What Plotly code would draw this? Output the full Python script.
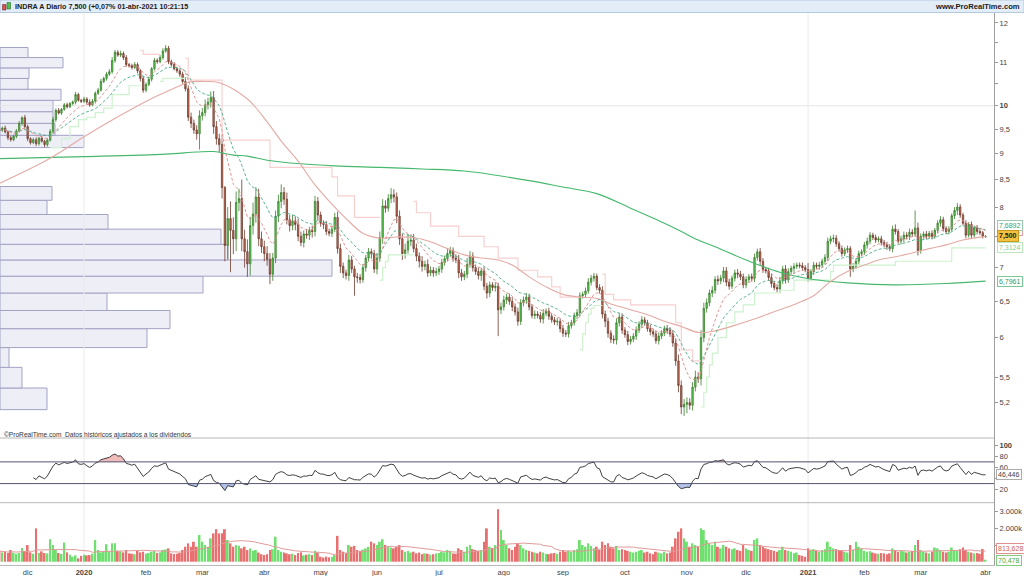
import numpy as np
import pandas as pd
import plotly.graph_objects as go

# ---------------- data ----------------
holidays = ['2019-12-25', '2019-12-26', '2020-01-01', '2020-04-10', '2020-04-13',
            '2020-05-01', '2020-12-25', '2021-01-01']
month_names = ['ene', 'feb', 'mar', 'abr', 'may', 'jun', 'jul', 'ago', 'sep', 'oct', 'nov', 'dic']

first_open = 9.50
close = [
    # nov 2019
    9.48, 9.52, 9.44, 9.32, 9.28, 9.35, 9.46, 9.62, 9.74, 9.55,
    # dic 2019
    9.30, 9.22, 9.28, 9.20, 9.31, 9.25, 9.18, 9.27, 9.45, 9.70,
    9.90, 9.84, 9.92, 10.02, 9.98, 10.05, 10.08, 10.25, 10.12, 10.10,
    # ene 2020
    10.15, 10.08, 10.02, 10.10, 10.28, 10.35, 10.55, 10.62, 10.72, 10.78,
    11.05, 11.25, 11.18, 11.22, 11.12, 10.95, 10.92, 10.88, 10.95, 10.80,
    10.62, 10.35,
    # feb 2020
    10.48, 10.60, 10.85, 11.05, 11.02, 11.12, 11.28, 11.35, 11.02, 10.95,
    10.85, 10.80, 10.72, 10.55, 10.38, 9.75, 9.62, 9.48, 9.40, 9.78,
    # mar 2020
    9.85, 10.02, 10.08, 10.18, 9.55, 9.30, 9.18, 8.35, 7.35, 7.80,
    7.60, 7.46, 8.08, 8.15, 7.46, 7.25, 7.06, 7.68, 7.88, 8.18,
    7.46, 7.33,
    # abr 2020
    7.22, 7.13, 6.90, 7.15, 7.84, 8.10, 8.26, 8.14, 7.78, 7.68,
    7.76, 7.70, 7.50, 7.40, 7.54, 7.52, 7.60, 7.58, 8.10, 7.86,
    # may 2020
    7.72, 7.70, 7.58, 7.55, 7.62, 7.82, 7.30, 7.02, 6.92, 6.88,
    7.12, 6.98, 6.86, 6.85, 6.82, 7.00, 7.15, 7.25, 7.22, 6.98,
    # jun 2020
    7.15, 7.48, 8.02, 7.98, 8.15, 8.22, 8.18, 7.84, 7.46, 7.22,
    7.28, 7.42, 7.44, 7.30, 7.18, 7.10, 7.02, 7.05, 6.92, 6.96,
    6.92, 6.94,
    # jul 2020
    6.98, 7.08, 7.14, 7.22, 7.27, 7.15, 7.12, 6.92, 6.86, 6.90,
    7.05, 7.18, 7.00, 6.94, 6.88, 6.95, 6.72, 6.62, 6.74, 6.70,
    6.72, 6.38, 6.42,
    # ago 2020
    6.52, 6.56, 6.50, 6.42, 6.35, 6.22, 6.48, 6.52, 6.56, 6.42,
    6.30, 6.32, 6.30, 6.25, 6.33, 6.36, 6.29, 6.24, 6.21, 6.22,
    6.12,
    # sep 2020
    6.06, 6.05, 6.16, 6.20, 6.30, 6.34, 6.58, 6.60, 6.65, 6.78,
    6.84, 6.87, 6.70, 6.66, 6.32, 6.22, 6.06, 5.98, 5.97, 6.20,
    6.28, 6.10,
    # oct 2020
    6.04, 5.95, 5.98, 6.02, 6.10, 6.18, 6.24, 6.20, 6.12, 6.08,
    6.05, 5.96, 6.02, 6.06, 6.12, 6.10, 6.05, 5.93, 5.70, 5.40,
    5.15, 5.18,
    # nov 2020
    5.20, 5.17, 5.38, 5.50, 5.48, 6.00, 6.40, 6.48, 6.62, 6.66,
    6.82, 6.80, 6.84, 6.95, 6.78, 6.72, 6.84, 6.92, 6.90, 6.86,
    6.74,
    # dic 2020
    6.82, 6.86, 6.84, 7.16, 7.25, 7.10, 6.97, 6.95, 6.85, 6.76,
    6.70, 6.68, 6.80, 6.98, 6.82, 6.94, 6.99, 7.02, 7.04, 7.03,
    7.00, 6.97,
    # ene 2021
    6.84, 6.94, 7.04, 7.02, 7.04, 7.10, 7.16, 7.42, 7.46, 7.47,
    7.38, 7.30, 7.22, 7.28, 7.30, 6.98, 7.02, 7.10, 7.22, 7.25,
    # feb 2021
    7.36, 7.42, 7.52, 7.48, 7.44, 7.46, 7.40, 7.36, 7.33, 7.30,
    7.62, 7.58, 7.42, 7.46, 7.52, 7.50, 7.57, 7.54, 7.64, 7.27,
    # mar 2021 + 1 abr
    7.50, 7.54, 7.50, 7.55, 7.50, 7.60, 7.72, 7.78, 7.63, 7.58,
    7.62, 7.85, 7.94, 8.00, 7.86, 7.72, 7.52, 7.70, 7.52, 7.64,
    7.58, 7.56, 7.495, 7.50,
]

hi_wick_cents = [
    4, 3, 5, 3, 4, 3, 4, 5, 3, 6,
    4, 3, 4, 5, 3, 4, 3, 4, 5, 6, 4, 5, 3, 4, 5, 3, 4, 6, 4, 3,
    5, 4, 6, 5, 4, 5, 6, 4, 5, 6, 8, 6, 5, 7, 5, 6, 4, 5, 6, 5, 4, 6,
    5, 6, 4, 6, 5, 6, 7, 8, 6, 5, 6, 5, 4, 6, 10, 8, 10, 8, 10, 12,
    10, 12, 10, 14, 15, 12, 10, 20, 3, 20, 30, 22, 20, 18, 35, 15, 20, 15, 20, 18, 15, 12,
    10, 12, 10, 8, 10, 12, 15, 10, 12, 8, 10, 8, 10, 8, 6, 8, 6, 8, 10, 8,
    6, 5, 6, 5, 6, 8, 10, 8, 6, 5, 8, 6, 5, 6, 5, 6, 5, 6, 5, 6,
    8, 10, 12, 10, 8, 12, 10, 8, 10, 8, 10, 12, 8, 10, 8, 6, 8, 6, 8, 6, 5, 6,
    5, 6, 5, 8, 6, 5, 6, 8, 6, 5, 10, 8, 6, 5, 6, 5, 6, 5, 5, 4, 6, 5, 6,
    6, 5, 5, 6, 5, 6, 5, 5, 6, 5, 4, 5, 4, 5, 6, 4, 5, 4, 4, 5, 4,
    5, 4, 5, 4, 4, 5, 5, 4, 5, 6, 5, 5, 4, 5, 6, 5, 5, 4, 5, 6, 5, 5,
    4, 5, 4, 4, 5, 4, 5, 4, 4, 5, 4, 4, 5, 4, 4, 5, 4, 5, 6, 8, 6, 6,
    6, 5, 6, 8, 6, 10, 8, 6, 5, 6, 5, 6, 5, 6, 6, 5, 4, 5, 6, 5, 5,
    5, 4, 5, 6, 5, 6, 5, 4, 5, 6, 4, 5, 6, 5, 6, 5, 4, 5, 4, 4, 5, 4,
    10, 4, 5, 4, 5, 4, 5, 6, 5, 6, 5, 4, 5, 4, 5, 4, 5, 4, 5, 4,
    5, 6, 5, 4, 5, 4, 5, 4, 5, 4, 6, 8, 4, 5, 6, 5, 6, 5, 30, 9,
    5, 4, 5, 4, 5, 4, 5, 6, 5, 4, 5, 4, 6, 7, 5, 4, 5, 4, 5, 4, 5, 4, 3, 2,
]

lo_wick_cents = [
    3, 4, 3, 5, 4, 3, 4, 3, 5, 4,
    5, 4, 3, 5, 4, 3, 5, 4, 3, 4, 5, 3, 4, 3, 4, 3, 4, 5, 3, 4,
    4, 5, 4, 3, 5, 4, 3, 4, 5, 4, 5, 6, 4, 5, 6, 5, 4, 5, 4, 6, 7, 6,
    5, 4, 5, 4, 5, 4, 5, 4, 6, 5, 4, 5, 6, 5, 6, 8, 10, 8, 12, 32,
    10, 8, 10, 12, 15, 12, 15, 20, 25, 22, 67, 25, 20, 15, 20, 25, 20, 18, 15, 15, 12, 10,
    12, 10, 15, 10, 8, 10, 12, 10, 8, 10, 8, 10, 8, 6, 8, 6, 8, 10, 8, 10,
    6, 8, 6, 5, 6, 5, 8, 10, 8, 6, 8, 6, 28, 8, 6, 5, 6, 5, 8, 6,
    8, 6, 10, 8, 6, 8, 10, 12, 10, 10, 8, 6, 8, 6, 8, 10, 8, 6, 6, 5, 6, 5,
    5, 6, 5, 4, 5, 6, 5, 8, 6, 5, 6, 5, 6, 5, 6, 8, 6, 8, 6, 5, 6, 36, 6,
    5, 6, 5, 6, 5, 6, 5, 5, 6, 5, 4, 5, 4, 5, 6, 4, 5, 4, 4, 5, 5,
    5, 4, 5, 4, 4, 5, 5, 4, 5, 4, 5, 5, 4, 5, 6, 8, 6, 5, 5, 6, 5, 5,
    4, 5, 4, 4, 5, 4, 5, 4, 4, 5, 4, 4, 5, 4, 4, 5, 4, 5, 6, 8, 8, 10,
    10, 5, 6, 5, 5, 8, 6, 6, 5, 6, 5, 6, 5, 6, 6, 5, 4, 5, 6, 5, 5,
    5, 4, 5, 6, 5, 6, 5, 4, 5, 6, 4, 5, 6, 5, 6, 5, 4, 8, 4, 4, 5, 4,
    5, 4, 5, 4, 5, 4, 5, 6, 5, 6, 5, 4, 5, 4, 5, 12, 5, 4, 5, 4,
    5, 6, 5, 4, 5, 4, 5, 4, 5, 4, 6, 5, 4, 5, 6, 5, 6, 5, 5, 8,
    5, 4, 5, 4, 5, 4, 5, 6, 5, 4, 5, 4, 6, 8, 5, 4, 5, 4, 5, 4, 5, 4, 3, 2,
]

volume_k = [
    640, 560, 600, 520, 700, 540, 480, 520, 820, 650,
    1000, 560, 480, 2000, 520, 620, 520, 500, 1350, 1000, 700, 520, 460, 1150, 560, 420, 300, 380, 200, 350,
    420, 380, 400, 480, 1300, 700, 560, 600, 1050, 650, 1100, 1100, 650, 620, 560, 700, 500, 480, 450, 650, 560, 600,
    480, 520, 600, 640, 520, 560, 700, 740, 800, 500, 460, 480, 520, 700, 900, 1100, 900, 1200, 900, 1600,
    1200, 1000, 900, 1400, 1700, 1950, 1700, 1700, 1950, 1300, 1100, 900, 1000, 950, 800, 900, 700, 800, 650, 700, 550, 450,
    400, 450, 700, 750, 1500, 700, 600, 550, 500, 450, 480, 400, 520, 560, 380, 420, 450, 400, 650, 550,
    300, 250, 300, 260, 280, 400, 1550, 700, 600, 500, 1000, 900, 950, 700, 650, 720, 800, 900, 1200, 1100,
    1000, 1200, 1350, 1000, 900, 850, 800, 900, 1000, 700, 600, 650, 550, 600, 500, 550, 450, 500, 480, 420, 450, 500,
    520, 600, 560, 700, 650, 500, 480, 800, 700, 600, 900, 1000, 750, 700, 650, 700, 1200, 2000, 900, 800, 1000, 3150, 1900,
    1300, 1000, 800, 700, 900, 1100, 1000, 800, 700, 650, 600, 550, 500, 600, 550, 480, 450, 500, 520, 480, 600,
    700, 600, 650, 600, 700, 750, 1300, 1000, 900, 1100, 950, 800, 900, 700, 1200, 1000, 1100, 900, 800, 950, 700, 750,
    700, 650, 600, 550, 600, 650, 700, 550, 600, 500, 450, 600, 550, 500, 600, 500, 550, 900, 1400, 1800, 2000, 1400,
    1200, 900, 1100, 1000, 900, 2000, 1900, 1300, 1100, 1000, 1200, 900, 800, 1000, 900, 800, 750, 800, 700, 650, 1000,
    800, 700, 650, 1300, 1400, 1000, 900, 800, 750, 700, 650, 600, 700, 900, 700, 650, 600, 500, 550, 400, 350, 300,
    800, 700, 750, 650, 600, 700, 750, 1200, 900, 800, 750, 700, 650, 600, 550, 1000, 700, 1200, 900, 800,
    650, 600, 620, 550, 500, 480, 520, 500, 450, 500, 800, 700, 600, 650, 620, 550, 600, 650, 1000, 1300,
    700, 600, 550, 500, 600, 850, 800, 700, 600, 550, 600, 850, 700, 650, 750, 850, 700, 600, 550, 500, 520, 480, 760, 70.478,
]

# long moving averages (trading-day index, value)
sma50_x = [0, 18, 30, 42, 53, 63, 67, 73, 78, 88, 95, 100, 106, 112, 118, 123, 129, 135, 141, 147,
           153, 159, 165, 171, 177, 182, 188, 194, 200, 206, 212, 218, 224, 230, 236, 242, 248,
           254, 263, 270, 277, 283, 289, 295, 301, 307, 312, 318, 324, 330, 336, 342, 350]
sma50_y = [8.43, 8.91, 9.34, 9.76, 10.13, 10.42, 10.53, 10.55, 10.52, 10.15, 9.65, 9.25, 8.85, 8.4, 8.05,
           7.8, 7.55, 7.47, 7.49, 7.48, 7.41, 7.3, 7.2, 7.15, 7.12, 7.04, 6.86, 6.71, 6.6, 6.56, 6.54,
           6.45, 6.38, 6.31, 6.22, 6.15, 6.07, 6.09, 6.19, 6.28, 6.38, 6.47, 6.58, 6.79, 6.94, 7.04,
           7.12, 7.17, 7.23, 7.3, 7.36, 7.44, 7.5]
sma200_x = [0, 30, 59, 70, 76, 83, 88, 95, 107, 119, 135, 150, 165, 188, 200, 212, 224, 236, 242,
            248, 254, 265, 277, 289, 301, 318, 336, 350]
sma200_y = [8.9, 8.94, 8.99, 9.03, 9.04, 8.97, 8.95, 8.87, 8.8, 8.76, 8.73, 8.7, 8.66, 8.48, 8.36,
            8.24, 7.98, 7.72, 7.58, 7.44, 7.33, 7.12, 6.93, 6.82, 6.77, 6.74, 6.76, 6.7961]

# volatility stops (step lines): upper (pink) and lower (light green)
stop_up_x = [50, 51, 57, None, 66, 67, 79, 96, 118, 120, 126, 135, None,
             147, 148, 153, 163, 172, 177, 184, 191, 196, 199, 206, None,
             214, 215, 218, 224, 240, 242, 246, 249]
stop_up_y = [11.3, 11.2, 11.2, None, 11.1, 10.58, 9.27, 8.73, 8.55, 8.2, 7.82, 7.82, None,
             8.1, 7.9, 7.67, 7.5, 7.33, 7.15, 6.96, 6.86, 6.71, 6.56, 6.56, None,
             6.9, 6.6, 6.52, 6.45, 6.2, 5.84, 5.7, 5.7]
stop_dn_x = [18, 22, 25, 28, 31, 34, 37, 40, 46, 50, None, 57, 58, 66, None,
             135, 136, 137, 138, 147, None, 206, 207, 208, 209, 210, 211, 214, None,
             249, 250, 251, 252, 253, 255, 258, 261, 264, 268, 277, 282, 295, 296, 318, 338, 350]
stop_dn_y = [9.12, 9.3, 9.55, 9.7, 9.75, 9.85, 9.95, 10.25, 10.45, 10.45, None, 10.55, 10.62, 10.62, None,
             6.81, 7.0, 7.1, 7.2, 7.2, None, 5.84, 6.05, 6.2, 6.32, 6.4, 6.44, 6.44, None,
             5.15, 5.32, 5.5, 5.65, 5.8, 6.0, 6.2, 6.35, 6.45, 6.62, 6.66, 6.81, 6.94, 7.04, 7.1,
             7.3124, 7.3124]

# volume-at-price profile (bins of 0.25, width in profile units; full panel = 994 units)
profile_low = [5.12, 5.37, 5.62, 5.87, 6.12, 6.37, 6.62, 6.87, 7.12, 7.37, 7.62, 7.87, 8.12,
               8.37, 8.62, 8.87, 9.12, 9.37, 9.62, 9.87, 10.12, 10.37, 10.62, 10.87, 11.12]
profile_width = [47, 22, 9, 147, 170, 107, 203, 332, 228, 221, 108, 47, 52,
                 0, 0, 0, 84, 55, 53, 53, 61, 28, 29, 63, 28]
profile_step = 0.25
profile_full_scale = 994

price_ticks = [5.2, 5.5, 6, 6.5, 7, 7.5, 8, 8.5, 9, 9.5, 10, 10.5, 11, 11.5, 12]
price_tick_text = ['5,2', '5,5', '6', '6,5', '7', '7,5', '8', '8,5', '9', '9,5', '<b>10</b>', '', '11', '', '12']
rsi_ticks = [20, 40, 60, 80, 100]
rsi_tick_text = ['20', '', '60', '80', '<b>100</b>']
vol_ticks = [1000, 2000, 3000]
vol_tick_text = ['1.000k', '2.000k', '3.000k']

price_labels = [  # value, text, text colour, border colour, background
    (7.595, '7,5952', '#d07070', '#e0a0a0', 'white'),
    (7.6892, '7,6892', '#3c9c6c', '#9cc8b0', 'white'),
    (7.3124, '7,3124', '#8ccc8c', '#bde6bd', 'white'),
    (6.7961, '6,7961', '#2e9a55', '#7cc896', 'white'),
    (7.500, '<b>7,500</b>', '#202020', '#c8981e', '#f4c240'),
]
rsi_last_label = (46.446, '46,446')
vol_labels = [(813.628, '813,628', '#d06060', '#e09090'), (70.478, '70,478', '#3caa3c', '#80cc80')]

title_text = '<b>INDRA A Diario 7,500 (+0,07% 01-abr-2021 10:21:15</b>'
site_text = '<b>www.ProRealTime.com</b>'
note_text = '©ProRealTime.com  Datos históricos ajustados a los dividendos'

# ---------------- derived series ----------------
days = pd.bdate_range('2019-11-18', '2021-04-01')
days = days[~days.isin(pd.to_datetime(holidays))]
n = min(len(days), len(close), len(hi_wick_cents), len(lo_wick_cents), len(volume_k))
days = days[:n]
idx = np.arange(n)
c = np.array(close[:n], dtype=float)
o = np.concatenate([[first_open], c[:-1]])
h = np.maximum(o, c) + np.array(hi_wick_cents[:n]) / 100.0
l = np.minimum(o, c) - np.array(lo_wick_cents[:n]) / 100.0
vol = np.array(volume_k[:n], dtype=float)

cs = pd.Series(c)
ema_fast = cs.ewm(span=10, adjust=False).mean()
ema_slow = cs.ewm(span=20, adjust=False).mean()
delta = cs.diff()
gain = delta.clip(lower=0)
loss = -delta.clip(upper=0)
ag = gain.ewm(alpha=1 / 14, adjust=True, min_periods=12).mean()
al = loss.ewm(alpha=1 / 14, adjust=True, min_periods=12).mean()
rsi = (100 - 100 / (1 + ag / al)).to_numpy()
vol_ma = pd.Series(vol).rolling(20, min_periods=1).mean()

per = days.to_period('M')
first_idx = [i for i in range(n) if i == 0 or per[i] != per[i - 1]][1:]
tick_text = [('<b>%d</b>' % days[i].year) if days[i].month == 1 else month_names[days[i].month - 1]
             for i in first_idx]
year_idx = [i for i in first_idx if days[i].month == 1]

# ---------------- geometry ----------------
W, H = 1024, 576
M_T, M_B, M_L, M_R = 13, 11, 0, 30
PH = H - M_T - M_B
PW = W - M_L - M_R


def fy(px):
    return (H - M_B - px) / PH


def fx(px):
    return (px - M_L) / PW


price_dom = [fy(438), 1.0]
rsi_dom = [fy(502.7), fy(438)]
vol_dom = [0.0, fy(502.7)]
FONT = 'Liberation Sans'

fig = go.Figure()

# price traces
fig.add_trace(go.Scatter(x=stop_up_x, y=stop_up_y, mode='lines', line=dict(color='#f8d0d0', width=1.2, shape='hv'),
                         connectgaps=False, hoverinfo='skip'))
fig.add_trace(go.Scatter(x=stop_dn_x, y=stop_dn_y, mode='lines', line=dict(color='#cdf2cd', width=1.2, shape='hv'),
                         connectgaps=False, hoverinfo='skip'))
fig.add_trace(go.Scatter(x=sma200_x, y=sma200_y, mode='lines', line=dict(color='#45b86c', width=1.1, shape='spline'),
                         hoverinfo='skip'))
fig.add_trace(go.Scatter(x=sma50_x, y=sma50_y, mode='lines', line=dict(color='#e4aaa4', width=1.1, shape='spline'),
                         hoverinfo='skip'))
fig.add_trace(go.Scatter(x=idx, y=ema_slow, mode='lines', line=dict(color='#48ac84', width=0.9, dash='3px,2px'),
                         hoverinfo='skip'))
fig.add_trace(go.Scatter(x=idx, y=ema_fast, mode='lines', line=dict(color='#e08888', width=0.9, dash='3px,2px'),
                         hoverinfo='skip'))
fig.add_trace(go.Candlestick(
    x=idx, open=o, high=h, low=l, close=c,
    increasing=dict(line=dict(color='#3b7f2b', width=0.8), fillcolor='#5cd25c'),
    decreasing=dict(line=dict(color='#6e3a2c', width=0.8), fillcolor='#c9735b'),
    whiskerwidth=0, hoverinfo='skip'))

# RSI traces
fig.add_trace(go.Scatter(x=idx, y=[70] * n, yaxis='y2', mode='lines', line=dict(width=0), hoverinfo='skip'))
fig.add_trace(go.Scatter(x=idx, y=np.where(rsi > 70, rsi, 70), yaxis='y2', mode='lines', line=dict(width=0),
                         fill='tonexty', fillcolor='rgba(232,150,150,0.65)', hoverinfo='skip'))
fig.add_trace(go.Scatter(x=idx, y=[30] * n, yaxis='y2', mode='lines', line=dict(width=0), hoverinfo='skip'))
fig.add_trace(go.Scatter(x=idx, y=np.where(rsi < 30, rsi, 30), yaxis='y2', mode='lines', line=dict(width=0),
                         fill='tonexty', fillcolor='rgba(140,165,225,0.65)', hoverinfo='skip'))
fig.add_trace(go.Scatter(x=idx, y=rsi, yaxis='y2', mode='lines', line=dict(color='#2a2a2a', width=0.9),
                         hoverinfo='skip'))

# volume traces
vcol = np.where(c >= o, '#6fdf6f', '#e87070')
fig.add_trace(go.Bar(x=idx, y=vol, yaxis='y3', marker=dict(color=vcol, line=dict(width=0)), width=0.66,
                     hoverinfo='skip'))
fig.add_trace(go.Scatter(x=idx, y=vol_ma, yaxis='y3', mode='lines', line=dict(color='#e09a9a', width=1),
                         hoverinfo='skip'))

# ---------------- shapes ----------------
shapes = []
# header bar + small candle icon
shapes.append(dict(type='rect', xref='paper', yref='paper', x0=fx(0), x1=fx(W), y0=fy(12.5), y1=fy(0),
                   fillcolor='#e3edf7', line=dict(color='#b4cadf', width=1), layer='above'))
shapes.append(dict(type='rect', xref='paper', yref='paper', x0=fx(2.5), x1=fx(6), y0=fy(10), y1=fy(4.5),
                   fillcolor='#d9534f', line=dict(color='#7a2a2a', width=0.6), layer='above'))
shapes.append(dict(type='rect', xref='paper', yref='paper', x0=fx(7), x1=fx(10.5), y0=fy(9), y1=fy(2.5),
                   fillcolor='#4cc44c', line=dict(color='#2a6a2a', width=0.6), layer='above'))
# volume profile (horizontal bars from the left edge; y in price units on the log axis)
for lo, w in zip(profile_low, profile_width):
    if w <= 0:
        continue
    shapes.append(dict(type='rect', xref='paper', yref='y', x0=0, x1=w / profile_full_scale,
                       y0=lo, y1=lo + profile_step,
                       fillcolor='#eeeef7', line=dict(color='#a2a2c4', width=1), layer='below'))
# round number line at 10
shapes.append(dict(type='line', xref='paper', yref='y', x0=0, x1=1, y0=10, y1=10,
                   line=dict(color='#e4e4e4', width=1), layer='below'))
# year separators
for yi in year_idx:
    shapes.append(dict(type='line', xref='x', yref='paper', x0=yi, x1=yi, y0=0, y1=1,
                       line=dict(color='#eaeaea', width=1), layer='below'))
# panel separators
for yy in (price_dom[0], rsi_dom[0]):
    shapes.append(dict(type='line', xref='paper', yref='paper', x0=0, x1=1, y0=yy, y1=yy,
                       line=dict(color='#b8b8b8', width=1)))
# RSI bands
for lev in (70, 30):
    shapes.append(dict(type='line', xref='paper', yref='y2', x0=0, x1=1, y0=lev, y1=lev,
                       line=dict(color='#555572', width=1)))

# ---------------- annotations ----------------
ann = []
ann.append(dict(xref='paper', yref='paper', x=fx(13), y=fy(6.5), xanchor='left', yanchor='middle',
                text=title_text, showarrow=False, font=dict(family=FONT, size=7.2, color='#1a1a1a')))
ann.append(dict(xref='paper', yref='paper', x=fx(1022), y=fy(6.5), xanchor='right', yanchor='middle',
                text=site_text, showarrow=False, font=dict(family=FONT, size=7.6, color='#1a1a1a')))
ann.append(dict(xref='paper', yref='paper', x=fx(2), y=fy(435), xanchor='left', yanchor='middle',
                text=note_text, showarrow=False, font=dict(family=FONT, size=6.6, color='#333333')))
for v, t, tc, bc, bg in price_labels:
    ann.append(dict(xref='paper', yref='y', x=fx(997), y=float(np.log10(v)), xanchor='left', yanchor='middle',
                    text=t, showarrow=False, font=dict(family=FONT, size=7, color=tc),
                    bgcolor=bg, bordercolor=bc, borderwidth=1, borderpad=1))
ann.append(dict(xref='paper', yref='y2', x=fx(996), y=rsi_last_label[0], xanchor='left', yanchor='middle',
                text=rsi_last_label[1], showarrow=False, font=dict(family=FONT, size=7, color='#444'),
                bgcolor='white', bordercolor='#aaaaaa', borderwidth=1, borderpad=1))
for v, t, tc, bc in vol_labels:
    ann.append(dict(xref='paper', yref='y3', x=fx(996), y=v, xanchor='left', yanchor='middle',
                    text=t, showarrow=False, font=dict(family=FONT, size=7, color=tc),
                    bgcolor='white', bordercolor=bc, borderwidth=1, borderpad=1))

tickfont = dict(family=FONT, size=7.5, color='#444444')
fig.update_layout(
    width=W, height=H,
    margin=dict(l=M_L, r=M_R, t=M_T, b=M_B, pad=0),
    paper_bgcolor='white', plot_bgcolor='rgba(0,0,0,0)',
    showlegend=False,
    font=dict(family=FONT, size=8, color='#333'),
    xaxis=dict(domain=[0, 1], anchor='y3', range=[0.18, 353.0], tickmode='array', tickvals=first_idx,
               ticktext=tick_text, tickfont=tickfont, showgrid=False, zeroline=False, ticks='',
               showline=True, linecolor='#b8b8b8', rangeslider=dict(visible=False), fixedrange=True),
    yaxis=dict(domain=price_dom, anchor='x', type='log', range=[np.log10(4.810), np.log10(12.267)],
               side='right', tickmode='array', tickvals=price_ticks, ticktext=price_tick_text,
               tickfont=tickfont, ticks='outside', ticklen=3, tickcolor='#999', showgrid=False,
               zeroline=False, showline=True, linecolor='#a0a0a0'),
    yaxis2=dict(domain=rsi_dom, anchor='x', range=[-5.2, 114], side='right', tickmode='array',
                tickvals=rsi_ticks, ticktext=rsi_tick_text, tickfont=tickfont, ticks='outside', ticklen=3,
                tickcolor='#999', showgrid=False, zeroline=False, showline=True, linecolor='#a0a0a0'),
    yaxis3=dict(domain=vol_dom, anchor='x', range=[-198, 3540], side='right', tickmode='array',
                tickvals=vol_ticks, ticktext=vol_tick_text, tickfont=tickfont, ticks='outside', ticklen=3,
                tickcolor='#999', showgrid=False, zeroline=False, showline=True, linecolor='#a0a0a0'),
    shapes=shapes, annotations=ann,
)

fig.write_html("out.html", config={'displayModeBar': False, 'responsive': False},
               post_script="document.body.style.margin='0';document.body.style.padding='0';"
                           "document.body.style.overflow='hidden';")
